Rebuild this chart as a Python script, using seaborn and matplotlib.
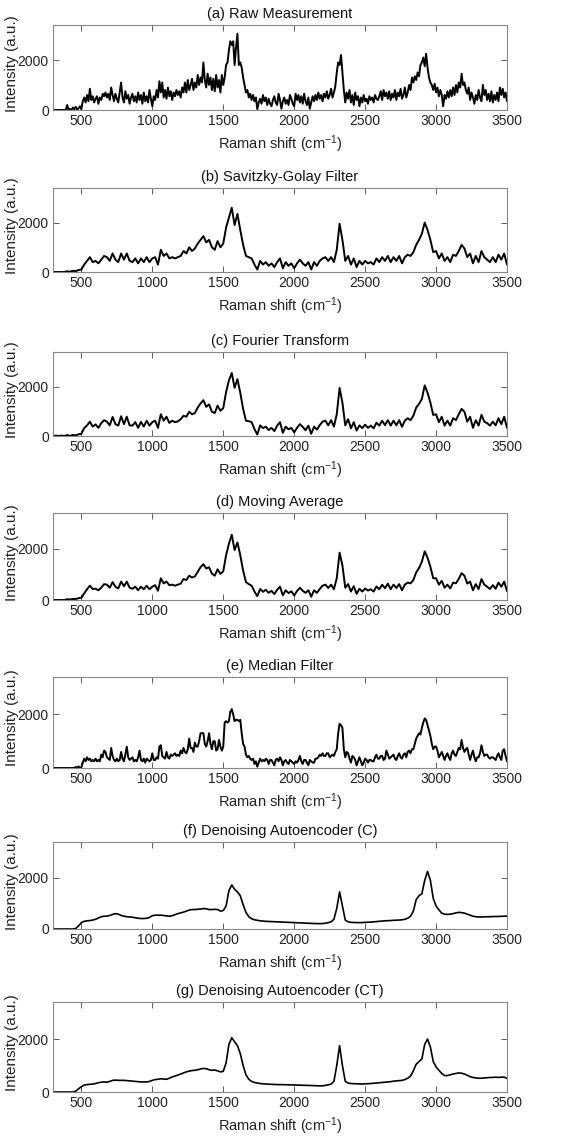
import numpy as np
import matplotlib
matplotlib.use('Agg')
import matplotlib.pyplot as plt
import seaborn as sns

# Raman shift grids (cm^-1)
shift_fine = np.arange(300, 3501, 10)   # noisy traces (a), (e)
shift = np.arange(300, 3501, 20)        # other traces

# (a) raw measurement, every 10 cm^-1
raw = [0, 0, 0, 0, 0, 0, 0, 0, 0, 0,
       200, 0, 40, 0, 100, 20, 130, 30, 60, 150,
       30, 350, 500, 300, 600, 350, 850, 400, 550, 300,
       450, 550, 250, 500, 400, 650, 550, 700, 500, 650,
       400, 900, 600, 350, 650, 450, 300, 700, 1100, 500,
       300, 750, 450, 600, 250, 500, 650, 350, 550, 300,
       700, 400, 600, 250, 700, 350, 550, 300, 800, 450,
       150, 550, 400, 800, 500, 1150, 700, 1100, 500, 800,
       450, 900, 550, 750, 400, 700, 550, 800, 600, 750,
       500, 900, 700, 1100, 700, 1200, 800, 1000, 1250, 800,
       1100, 900, 1400, 1000, 1300, 1100, 1900, 1200, 900, 1450,
       1000, 1300, 800, 1250, 750, 1400, 900, 1200, 700, 1400,
       1000, 1300, 1800, 1900, 2400, 2750, 2600, 2750, 1800, 2500,
       3050, 1800, 1900, 1700, 1300, 1000, 700, 800, 500, 650,
       400, 600, 350, 500, 30, 300, 450, 250, 600, 350,
       500, 200, 450, 250, 150, 400, 550, 300, 200, 650,
       400, 50, 350, 500, 250, 400, 200, 600, 450, 250,
       150, 650, 400, 600, 300, 550, 250, 650, 350, 200,
       500, 50, 300, 550, 350, 600, 400, 700, 450, 600,
       350, 650, 500, 750, 450, 600, 850, 500, 700, 950,
       1500, 1900, 1800, 2200, 1500, 800, 300, 700, 450, 800,
       300, 600, 200, 700, 400, 550, 150, 500, 300, 600,
       350, 450, 250, 550, 400, 500, 300, 600, 450, 400,
       550, 750, 400, 800, 550, 700, 450, 750, 400, 650,
       500, 800, 400, 700, 550, 850, 450, 600, 900, 500,
       700, 1000, 800, 1300, 1100, 1350, 1200, 1500, 1350, 1800,
       1900, 2100, 1750, 2250, 1700, 1300, 1100, 1000, 800, 1050,
       700, 900, 550, 800, 600, 150, 600, 450, 750, 500,
       800, 550, 900, 600, 1000, 700, 1100, 900, 1450, 1000,
       1100, 800, 650, 900, 400, 700, 500, 250, 600, 400,
       800, 500, 350, 1000, 600, 800, 400, 650, 350, 750,
       300, 600, 400, 700, 350, 900, 600, 850, 500, 700,
       350]

# (b) Savitzky-Golay
sg = [0, 0, 0, 0, 0, 30, 10, 50, 30, 80,
      100, 300, 450, 600, 400, 450, 350, 500, 650, 600,
      450, 750, 500, 400, 750, 500, 750, 450, 400, 550,
      350, 550, 400, 600, 400, 550, 600, 300, 900, 650,
      750, 550, 600, 550, 600, 650, 850, 750, 1000, 850,
      950, 1150, 1300, 1450, 1200, 1300, 1000, 900, 1250, 1000,
      1150, 1800, 2200, 2600, 1900, 2350, 1700, 1100, 650, 600,
      550, 300, 100, 450, 300, 400, 250, 350, 200, 400,
      550, 150, 400, 250, 350, 150, 350, 500, 350, 250,
      400, 100, 400, 250, 450, 550, 600, 450, 600, 400,
      900, 1950, 1300, 450, 650, 300, 550, 200, 450, 300,
      450, 350, 400, 300, 550, 400, 600, 450, 650, 400,
      600, 450, 650, 350, 600, 700, 650, 800, 1100, 1300,
      1550, 2000, 1700, 1300, 800, 850, 550, 750, 450, 600,
      400, 700, 650, 850, 1100, 950, 600, 750, 350, 650,
      400, 850, 600, 500, 400, 600, 400, 700, 500, 750,
      300]

# (c) Fourier transform
ft = [0, 15, 0, 15, 0, 40, 0, 45, 20, 70,
      90, 320, 430, 580, 380, 470, 330, 520, 640, 580,
      430, 770, 480, 420, 800, 480, 780, 430, 420, 560,
      330, 570, 380, 620, 420, 560, 620, 330, 880, 620,
      780, 530, 620, 560, 590, 680, 820, 780, 980, 880,
      930, 1150, 1320, 1450, 1180, 1280, 980, 930, 1230, 1020,
      1130, 1780, 2250, 2550, 1950, 2300, 1750, 1100, 620, 600,
      560, 280, 60, 430, 320, 380, 240, 330, 200, 420,
      560, 130, 380, 270, 330, 150, 330, 480, 370, 230,
      420, 90, 380, 260, 440, 580, 620, 430, 640, 380,
      880, 1950, 1350, 430, 680, 310, 560, 220, 430, 320,
      460, 330, 420, 310, 540, 420, 620, 440, 640, 420,
      620, 430, 640, 370, 620, 720, 640, 820, 1150, 1300,
      1500, 2050, 1750, 1350, 850, 880, 560, 780, 420, 620,
      420, 720, 640, 880, 1100, 980, 580, 780, 330, 640,
      420, 860, 580, 520, 420, 580, 430, 720, 480, 780,
      330]

# (d) moving average
ma = [0, 0, 0, 0, 0, 30, 20, 40, 40, 70,
      90, 260, 420, 560, 430, 440, 380, 480, 620, 600,
      480, 700, 520, 450, 720, 540, 720, 480, 440, 520,
      380, 520, 420, 560, 420, 520, 580, 360, 850, 650,
      720, 580, 600, 560, 600, 640, 820, 780, 950, 880,
      920, 1100, 1280, 1400, 1230, 1280, 1030, 950, 1200, 1020,
      1120, 1750, 2200, 2550, 1950, 2250, 1750, 1150, 700, 620,
      560, 330, 150, 430, 320, 400, 280, 360, 230, 400,
      520, 180, 380, 270, 340, 180, 350, 480, 360, 280,
      380, 130, 380, 280, 430, 560, 600, 470, 600, 420,
      850, 1850, 1350, 480, 620, 330, 540, 240, 440, 330,
      450, 370, 420, 330, 530, 420, 600, 460, 640, 420,
      600, 470, 620, 380, 600, 680, 650, 780, 1080, 1250,
      1500, 1900, 1650, 1300, 850, 850, 600, 750, 480, 600,
      450, 680, 650, 830, 1050, 950, 640, 720, 380, 620,
      430, 820, 600, 520, 430, 580, 440, 680, 520, 720,
      350]

# (e) median filter, every 10 cm^-1
med = [0, 0, 0, 0, 0, 0, 0, 0, 0, 0,
       0, 0, 0, 0, 0, 0, 40, 0, 60, 0,
       30, 200, 350, 250, 400, 300, 350, 250, 300, 250,
       350, 250, 300, 250, 500, 400, 650, 600, 400, 350,
       300, 750, 450, 300, 250, 350, 250, 300, 600, 350,
       250, 500, 800, 400, 300, 350, 400, 250, 300, 250,
       400, 650, 300, 250, 350, 200, 350, 300, 250, 300,
       550, 300, 300, 400, 350, 800, 850, 450, 400, 350,
       600, 400, 350, 500, 450, 500, 550, 450, 500, 450,
       650, 550, 750, 600, 550, 700, 1100, 750, 750, 600,
       950, 800, 800, 1000, 1300, 1300, 1300, 900, 800, 1000,
       1300, 900, 700, 1000, 1000, 650, 700, 1050, 800, 650,
       800, 1700, 1750, 1700, 1750, 2100, 2200, 2000, 1750, 1800,
       1800, 1750, 1800, 1300, 900, 800, 500, 400, 450, 350,
       300, 350, 150, 250, 50, 200, 350, 250, 300, 250,
       350, 300, 150, 300, 300, 200, 100, 300, 350, 250,
       400, 300, 100, 250, 300, 200, 150, 300, 250, 200,
       150, 250, 200, 300, 450, 250, 150, 300, 300, 200,
       100, 300, 250, 200, 200, 350, 350, 400, 500, 450,
       550, 450, 450, 550, 550, 400, 450, 500, 450, 600,
       700, 1300, 1650, 1600, 1500, 700, 400, 600, 550, 350,
       200, 450, 400, 300, 100, 250, 400, 250, 100, 200,
       350, 300, 200, 300, 300, 250, 250, 400, 500, 350,
       350, 450, 450, 300, 350, 650, 500, 350, 400, 450,
       500, 350, 300, 450, 550, 400, 350, 500, 550, 400,
       600, 650, 550, 700, 700, 900, 1100, 1200, 1300, 1250,
       1500, 1700, 1850, 1800, 1600, 1400, 1200, 900, 700, 800,
       800, 650, 400, 500, 600, 450, 300, 450, 550, 400,
       300, 550, 650, 500, 450, 600, 750, 700, 1050, 750,
       600, 700, 750, 500, 300, 500, 650, 400, 250, 400,
       400, 550, 850, 600, 450, 500, 500, 400, 350, 400,
       400, 350, 300, 450, 550, 400, 300, 650, 700, 450,
       250]

# (f) denoising autoencoder (C)
dae_c = [0, 0, 0, 0, 0, 0, 0, 0, 20, 120,
         250, 300, 320, 330, 350, 380, 430, 480, 500, 500,
         530, 570, 600, 580, 530, 500, 480, 470, 460, 440,
         420, 410, 410, 420, 450, 520, 540, 540, 540, 530,
         510, 500, 520, 560, 600, 630, 660, 700, 740, 760,
         760, 770, 780, 800, 790, 760, 760, 770, 760, 700,
         720, 900, 1500, 1720, 1550, 1450, 1300, 950, 650, 480,
         400, 360, 340, 320, 310, 300, 295, 290, 285, 280,
         275, 270, 265, 260, 255, 250, 245, 240, 235, 230,
         225, 220, 215, 210, 210, 215, 225, 250, 280, 380,
         800, 1450, 900, 350, 280, 260, 255, 250, 250, 250,
         260, 265, 270, 280, 290, 300, 310, 320, 325, 330,
         340, 345, 350, 360, 380, 420, 500, 700, 1150, 1300,
         1380, 1900, 2250, 1900, 1200, 900, 750, 620, 580, 570,
         580, 600, 630, 650, 640, 620, 580, 540, 500, 480,
         470, 470, 475, 480, 480, 485, 490, 490, 495, 500,
         500]

# (g) denoising autoencoder (CT)
dae_ct = [0, 0, 0, 0, 0, 0, 0, 0, 30, 120,
          200, 260, 280, 290, 300, 320, 350, 370, 380, 370,
          400, 440, 450, 440, 440, 440, 430, 420, 410, 400,
          390, 380, 380, 380, 400, 440, 470, 480, 500, 490,
          480, 520, 570, 600, 640, 680, 720, 760, 790, 810,
          820, 840, 870, 890, 880, 840, 820, 830, 800, 760,
          780, 1100, 1800, 2050, 1900, 1750, 1450, 1000, 650, 480,
          400, 360, 340, 320, 310, 300, 295, 290, 285, 280,
          280, 278, 275, 272, 270, 268, 265, 262, 260, 255,
          250, 245, 240, 235, 230, 235, 250, 270, 300, 400,
          1000, 1750, 1000, 400, 340, 320, 315, 310, 305, 300,
          310, 315, 320, 330, 340, 350, 360, 370, 380, 390,
          410, 420, 430, 440, 470, 520, 600, 800, 1050, 1150,
          1250, 1800, 2000, 1700, 1150, 950, 820, 700, 620, 620,
          650, 680, 700, 720, 710, 680, 630, 580, 550, 530,
          520, 520, 530, 540, 550, 550, 560, 550, 560, 560,
          520]

titles = ['(a) Raw Measurement', '(b) Savitzky-Golay Filter', '(c) Fourier Transform',
          '(d) Moving Average', '(e) Median Filter', '(f) Denoising Autoencoder (C)',
          '(g) Denoising Autoencoder (CT)']
series = [raw, sg, ft, ma, med, dae_c, dae_ct]
grids = [shift_fine, shift, shift, shift, shift_fine, shift, shift]
for g, s in zip(grids, series):
    assert len(s) == len(g), len(s)

sns.set_style('ticks')
plt.rcParams['font.family'] = ['Liberation Sans', 'DejaVu Sans']
plt.rcParams['mathtext.fontset'] = 'custom'
plt.rcParams['mathtext.rm'] = 'Liberation Sans'
plt.rcParams['mathtext.it'] = 'Liberation Sans'

fig = plt.figure(figsize=(5.73, 11.45), dpi=100)
W, H = 573, 1145
tops = [25, 188, 352, 513, 677, 842, 1002]
bots = [110, 272, 436, 600, 768, 929, 1092]

for i, (title, g, vals) in enumerate(zip(titles, grids, series)):
    ax = fig.add_axes([53 / W, 1 - bots[i] / H, 454 / W, (bots[i] - tops[i]) / H])
    lw = 1.2 if i >= 5 else 1.4
    sns.lineplot(x=g, y=vals, ax=ax, color='black', linewidth=lw)
    ax.set_xlim(300, 3500)
    ax.set_ylim(0, 3400)
    ax.set_xticks([500, 1000, 1500, 2000, 2500, 3000, 3500])
    ax.set_yticks([0, 2000])
    ax.tick_params(direction='in', top=True, right=True, length=4, width=0.6,
                   labelsize=10, colors='#444444', labelcolor='#222222', pad=3)
    for sp in ax.spines.values():
        sp.set_visible(True)
        sp.set_color('#888888')
        sp.set_linewidth(0.8)
    ax.set_title(title, fontsize=10.5, color='#111111', pad=5)
    ax.set_xlabel(r'Raman shift (cm$^{-1}$)', fontsize=10.5, color='#222222', labelpad=4)
    ax.set_ylabel('Intensity (a.u.)', fontsize=11, color='#222222')
    ax.yaxis.set_label_coords(-0.074, 0.55)

fig.savefig('out.png', dpi=100)
